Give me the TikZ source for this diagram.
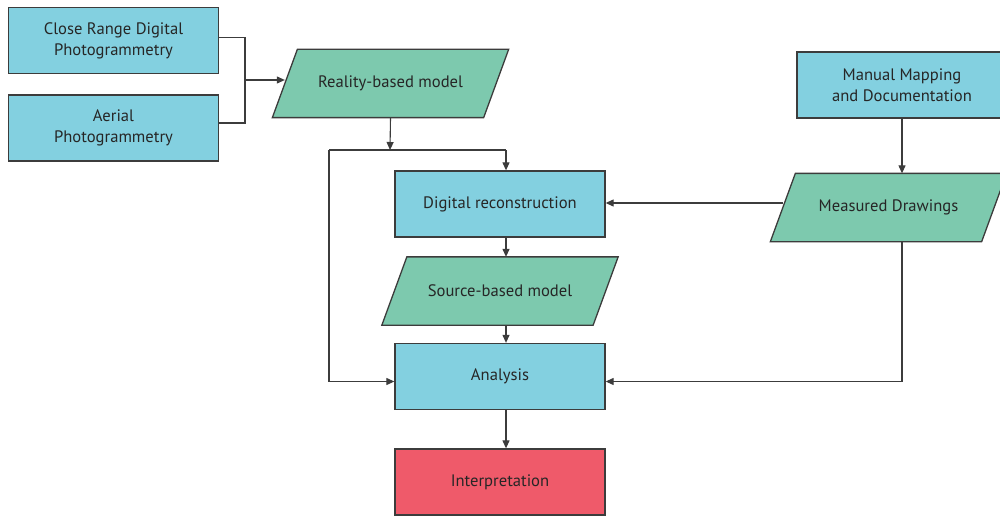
\documentclass[tikz,border=0pt]{standalone}
\usepackage{fontspec}
\setmainfont{PT Sans}
\usetikzlibrary{arrows.meta,backgrounds}
\definecolor{boxblue}{HTML}{83D0E0}
\definecolor{boxgreen}{HTML}{7DC9AE}
\definecolor{boxred}{HTML}{EF5A6A}
\definecolor{edge}{HTML}{3C3C3C}
\definecolor{txt}{HTML}{262626}
\tikzset{
  base/.style={line width=1.3pt, text=txt, align=center,
    font=\fontsize{16.6}{21}\selectfont, inner sep=0pt, rectangle,
    minimum width=210pt, minimum height=66pt},
  procbox/.style={base, draw=edge, fill=boxblue},
  endbox/.style={base, draw=edge, fill=boxred},
  databox/.style={base, minimum height=67pt},
  parashape/.style={draw=edge, line width=1.3pt, fill=boxgreen},
  conn/.style={draw=edge, line width=1.1pt},
  arr/.style={conn, -{Triangle[length=8pt,width=7pt]}}
}
\newcommand{\paraof}[1]{%
  \path[parashape] ([xshift=-12.5pt]#1.south west) -- ([xshift=-12.5pt]#1.south east)
    -- ([xshift=12.5pt]#1.north east) -- ([xshift=12.5pt]#1.north west) -- cycle;}
\begin{document}
\begin{tikzpicture}[x=1pt,y=-1pt]
\useasboundingbox (0,0) rectangle (1000,516);
\node[procbox] (crdp) at (113.5,40.5) {Close Range Digital\\Photogrammetry};
\node[procbox] (aer) at (113.5,128) {Aerial\\Photogrammetry};
\node[databox] (rbm) at (390.5,83.5) {Reality-based model};
\node[procbox] (dr) at (500,204) {Digital reconstruction};
\node[databox] (sbm) at (500,291) {Source-based model};
\node[procbox] (ana) at (500,376.5) {Analysis};
\node[endbox] (int) at (500,482) {Interpretation};
\node[procbox] (mm) at (902,85) {Manual Mapping\\and Documentation};
\node[databox] (md) at (888.5,207.5) {Measured Drawings};
\begin{scope}[on background layer]
\paraof{rbm}
\paraof{sbm}
\paraof{md}
\end{scope}
% junctions
\coordinate (j1) at (245,80);
\coordinate (j2) at (390,150);
\coordinate (jl) at (329,150);
\coordinate (jr) at (506,150);
% connectors
\draw[conn] ([yshift=3pt]crdp.east) -| (j1);
\draw[conn] ([yshift=5pt]aer.east) -| (j1);
\draw[arr] (j1) -- (j1 -| rbm.west);
\draw[arr] (rbm.south) -- (j2);
\draw[conn] (jl) -- (jr);
\draw[arr] (jr) -- (jr |- dr.north);
\draw[arr] (jl) |- ([yshift=-5pt]ana.west);
\draw[arr] ([xshift=6pt]dr.south) -- ([xshift=6pt]sbm.north);
\draw[arr] ([xshift=6pt]sbm.south) -- ([xshift=6pt]ana.north);
\draw[arr] ([xshift=6pt]ana.south) -- ([xshift=6pt]int.north);
\draw[arr] (mm.south) -- (mm.south |- md.north);
\draw[arr] ([yshift=1pt]dr.east -| md.west) -- ([yshift=1pt]dr.east);
\draw[arr] (mm.south |- md.south) |- ([yshift=-5pt]ana.east);
\end{tikzpicture}
\end{document}
